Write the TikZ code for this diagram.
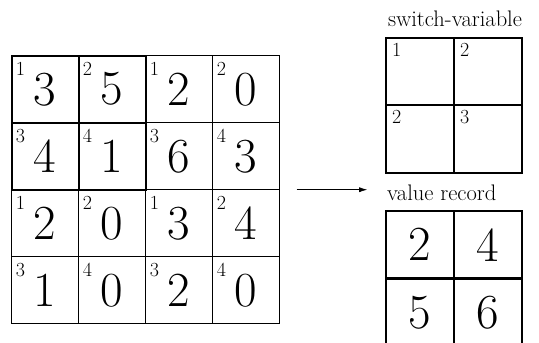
\documentclass[tikz,border=0pt]{standalone}
\usepackage{fontspec}
\usetikzlibrary{positioning,arrows.meta}
\tikzset{
  cell/.style={draw,line width=0.8pt,outer sep=0pt,inner sep=0pt,minimum size=67pt,font=\fontsize{49}{49}\selectfont},
  bigcell/.style={draw,line width=2.4pt,outer sep=0pt,inner sep=0pt,minimum width=68pt,minimum height=67.5pt,font=\fontsize{49}{49}\selectfont},
  idx/.style={inner sep=0pt,font=\fontsize{20}{20}\selectfont},
  caption/.style={inner sep=0pt,anchor=base west,font=\fontsize{22.5}{24}\selectfont}
}
\begin{document}
\begin{tikzpicture}[x=1pt,y=1pt]
  \useasboundingbox (0,0) rectangle (539,-343);
  % 4x4 table, each value with its place 1..4 in its 2x2 block
  \foreach \v [count=\i from 0] in {3,5,2,0,4,1,6,3,2,0,3,4,1,0,2,0}{
    \pgfmathtruncatemacro\rw{div(\i,4)}
    \pgfmathtruncatemacro\cl{mod(\i,4)}
    \pgfmathtruncatemacro\k{1+mod(\cl,2)+2*mod(\rw,2)}
    \node[cell] (m\rw\cl) at (45.2+67*\cl,-89.2-67*\rw) {\v};
    \node[idx,below right=6pt and 4pt of m\rw\cl.north west] (k\rw\cl) {\k};
  }
  % current 2x2 window
  \draw[line width=2pt] (m00.north west) rectangle (m11.south east);
  \draw[line width=2pt] (m00.north east) -- (m10.south east)
                        (m00.south west) -- (m01.south east);

  \coordinate (from) at ([xshift=17pt]m13.south east);
  \coordinate (to) at ([xshift=87.5pt]m13.south east);
  \draw[line width=0.6pt,-{Latex[length=8pt,width=5pt]}] (from) -- (to);

  % switch-variable and value record
  \foreach \rw/\cl/\k/\v in {0/0/1/2,0/1/2/4,1/0/2/5,1/1/3/6}{
    \node[bigcell] (s\rw\cl) at (420+68*\cl,-71.5-67.5*\rw) {};
    \node[idx,below right=5pt and 6pt of s\rw\cl.north west] (t\rw\cl) {\k};
    \node[bigcell] (v\rw\cl) at (420+68*\cl,-244.75-67.5*\rw) {\v};
  }
  \node[caption] (swlabel) at ([shift={(2pt,11pt)}]s00.north west) {switch-variable};
  \node[caption] (vrlabel) at ([shift={(1pt,10.3pt)}]v00.north west) {value record};
\end{tikzpicture}
\end{document}
